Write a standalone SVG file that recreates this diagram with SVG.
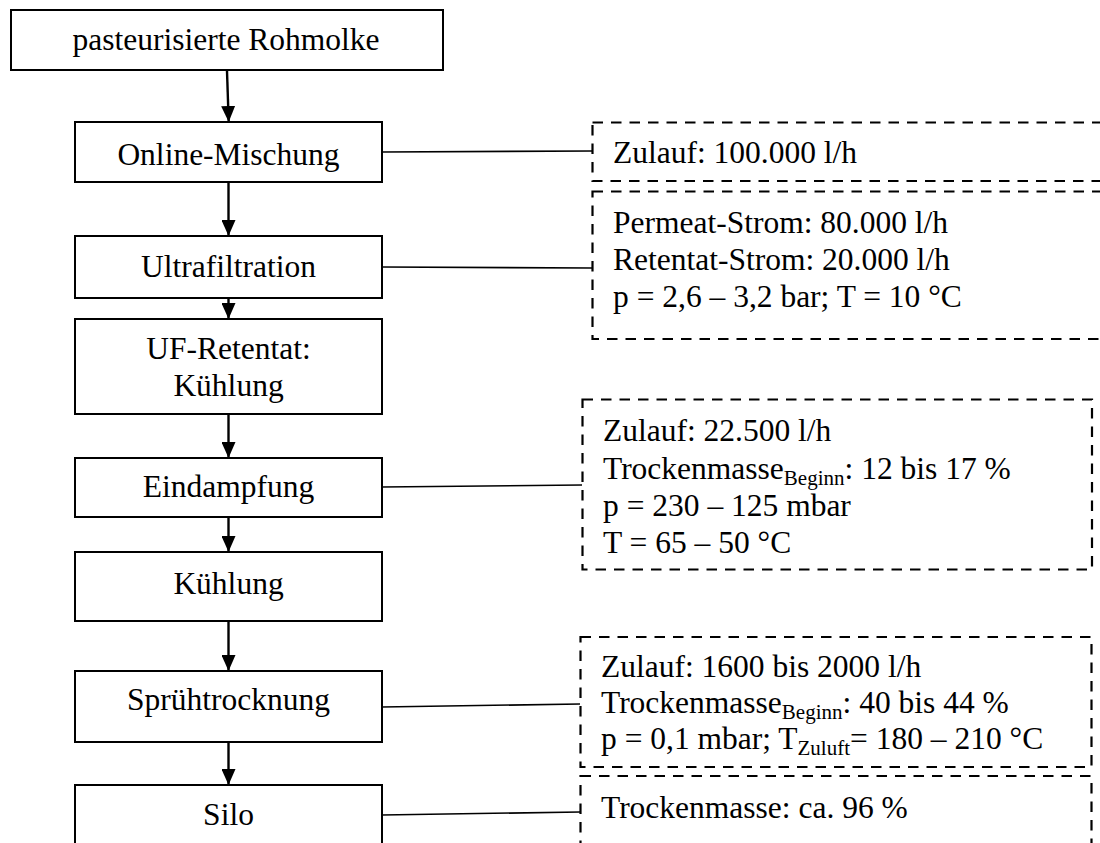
<svg xmlns="http://www.w3.org/2000/svg" width="1100" height="843" viewBox="0 0 1100 843">
  <style>
    .box { fill: #fff; stroke: #000; stroke-width: 2; }
    .note { fill: none; stroke: #000; stroke-width: 2.2; stroke-dasharray: 10.5 8; }
    .lbl { font-family: "Liberation Serif", "Times New Roman", serif; font-size: 31.5px; fill: #000; }
    .mid { text-anchor: middle; }
    .sub { font-size: 21px; }
    .flow { stroke: #000; stroke-width: 2.4; fill: none; marker-end: url(#arrow); }
    .link { stroke: #000; stroke-width: 1.6; fill: none; }
  </style>
  <defs>
    <marker id="arrow" markerWidth="16" markerHeight="14" refX="16" refY="7" orient="auto" markerUnits="userSpaceOnUse">
      <path d="M0,0 L16,7 L0,14 Z" fill="#000"/>
    </marker>
  </defs>

  <rect width="1100" height="843" fill="#fff"/>

  <!-- process steps -->
  <g id="rohmolke">
    <rect class="box" x="11" y="10" width="432" height="60"/>
    <text class="lbl mid" x="226" y="50">pasteurisierte Rohmolke</text>
  </g>
  <g id="online-mischung">
    <rect class="box" x="75" y="122" width="307" height="60"/>
    <text class="lbl mid" x="228.5" y="165">Online-Mischung</text>
  </g>
  <g id="ultrafiltration">
    <rect class="box" x="75" y="236" width="307" height="62"/>
    <text class="lbl mid" x="228.5" y="277">Ultrafiltration</text>
  </g>
  <g id="uf-retentat">
    <rect class="box" x="75" y="319" width="307" height="95"/>
    <text class="lbl mid" x="228.5" y="359">UF-Retentat:</text>
    <text class="lbl mid" x="228.5" y="396">Kühlung</text>
  </g>
  <g id="eindampfung">
    <rect class="box" x="75" y="458" width="307" height="59"/>
    <text class="lbl mid" x="228.5" y="497">Eindampfung</text>
  </g>
  <g id="kuehlung">
    <rect class="box" x="75" y="552" width="307" height="69"/>
    <text class="lbl mid" x="228.5" y="594">Kühlung</text>
  </g>
  <g id="spruehtrocknung">
    <rect class="box" x="75" y="671" width="307" height="71"/>
    <text class="lbl mid" x="228.5" y="710">Sprühtrocknung</text>
  </g>
  <g id="silo">
    <rect class="box" x="75" y="785" width="307" height="80"/>
    <text class="lbl mid" x="228.5" y="825">Silo</text>
  </g>

  <!-- parameter notes -->
  <g id="note-mischung">
    <rect class="note" x="592.5" y="122.5" width="540" height="58.5"/>
    <text class="lbl" x="613" y="163">Zulauf: 100.000 l/h</text>
  </g>
  <g id="note-ultrafiltration">
    <rect class="note" x="592.5" y="191.5" width="540" height="147.5"/>
    <text class="lbl" x="613" y="233">Permeat-Strom: 80.000 l/h</text>
    <text class="lbl" x="613" y="270">Retentat-Strom: 20.000 l/h</text>
    <text class="lbl" x="613" y="307">p = 2,6 – 3,2 bar; T = 10 °C</text>
  </g>
  <g id="note-eindampfung">
    <rect class="note" x="582.5" y="399.5" width="509.5" height="170"/>
    <text class="lbl" x="603" y="441">Zulauf: 22.500 l/h</text>
    <text class="lbl" x="603" y="479">Trockenmasse<tspan class="sub" dy="6">Beginn</tspan><tspan dy="-6">: 12 bis 17 %</tspan></text>
    <text class="lbl" x="603" y="516">p = 230 – 125 mbar</text>
    <text class="lbl" x="603" y="553">T = 65 – 50 °C</text>
  </g>
  <g id="note-spruehtrocknung">
    <rect class="note" x="580.5" y="637" width="511" height="130"/>
    <text class="lbl" x="601" y="677">Zulauf: 1600 bis 2000 l/h</text>
    <text class="lbl" x="601" y="713">Trockenmasse<tspan class="sub" dy="6">Beginn</tspan><tspan dy="-6">: 40 bis 44 %</tspan></text>
    <text class="lbl" x="601" y="749">p = 0,1 mbar; T<tspan class="sub" dy="6">Zuluft</tspan><tspan dy="-6">= 180 – 210 °C</tspan></text>
  </g>
  <g id="note-silo">
    <rect class="note" x="580.5" y="776" width="511" height="100"/>
    <text class="lbl" x="601" y="818">Trockenmasse: ca. 96 %</text>
  </g>

  <!-- connectors -->
  <g id="connectors">
    <path class="flow" d="M227,71 L228.7,122"/>
    <path class="flow" d="M228.5,182 L228.5,236"/>
    <path class="flow" d="M228.5,298 L228.5,319"/>
    <path class="flow" d="M228.5,414 L228.5,458"/>
    <path class="flow" d="M228.5,517 L228.5,552"/>
    <path class="flow" d="M228.5,621 L228.5,671"/>
    <path class="flow" d="M228.5,742 L228.5,785"/>

    <path class="link" d="M382,152 L592,151"/>
    <path class="link" d="M382,267 L592,268"/>
    <path class="link" d="M382,487 L582,485"/>
    <path class="link" d="M382,707 L580,704"/>
    <path class="link" d="M382,815 L580,812"/>
  </g>
</svg>
